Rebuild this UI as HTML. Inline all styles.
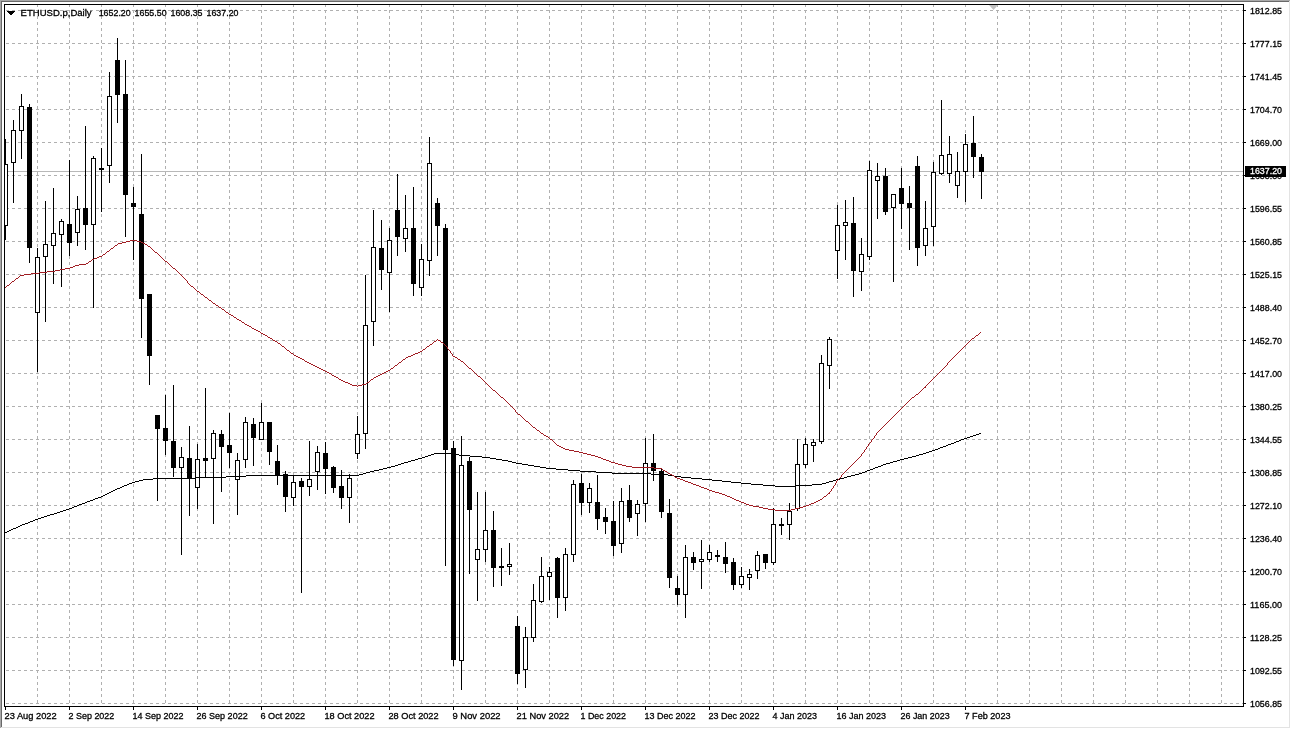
<!DOCTYPE html>
<html lang="en"><head><meta charset="utf-8"><title>ETHUSD.p Daily</title>
<style>html,body{margin:0;padding:0;background:#fff;overflow:hidden}svg{display:block}text{font-family:"Liberation Sans",sans-serif;font-size:9.6px;fill:#000;stroke:#000;stroke-width:0.3px}</style></head><body>
<svg width="1291" height="729" viewBox="0 0 1291 729">
<rect width="1291" height="729" fill="#fff"/>
<g shape-rendering="crispEdges">
<rect x="0" y="0" width="1290" height="1" fill="#a8a8a8"/><rect x="0" y="0" width="1" height="728" fill="#a8a8a8"/>
<rect x="1" y="1" width="1288" height="1" fill="#696969"/><rect x="1" y="1" width="1" height="726" fill="#696969"/>
<rect x="1289" y="1" width="1" height="727" fill="#e3e3e3"/><rect x="1" y="727" width="1289" height="1" fill="#e3e3e3"/>
</g>
<defs><clipPath id="cp"><rect x="5" y="5" width="1238" height="701"/></clipPath></defs>
<g clip-path="url(#cp)">
<g shape-rendering="crispEdges" stroke="#b0b0b0" stroke-width="1" stroke-dasharray="3 3" fill="none">
<path d="M0 10.5H1243M0 43.5H1243M0 76.5H1243M0 109.5H1243M0 142.5H1243M0 175.5H1243M0 208.5H1243M0 241.5H1243M0 274.5H1243M0 307.5H1243M0 340.5H1243M0 373.5H1243M0 406.5H1243M0 439.5H1243M0 472.5H1243M0 505.5H1243M0 538.5H1243M0 571.5H1243M0 604.5H1243M0 637.5H1243M0 670.5H1243M0 703.5H1243"/>
<path d="M37.5 4V706M69.5 4V706M101.5 4V706M133.5 4V706M165.5 4V706M197.5 4V706M229.5 4V706M261.5 4V706M293.5 4V706M325.5 4V706M357.5 4V706M389.5 4V706M421.5 4V706M453.5 4V706M485.5 4V706M517.5 4V706M549.5 4V706M581.5 4V706M613.5 4V706M645.5 4V706M677.5 4V706M709.5 4V706M741.5 4V706M773.5 4V706M805.5 4V706M837.5 4V706M869.5 4V706M901.5 4V706M933.5 4V706M965.5 4V706M997.5 4V706M1029.5 4V706M1061.5 4V706M1093.5 4V706M1125.5 4V706M1157.5 4V706M1189.5 4V706M1221.5 4V706"/>
</g>
<path d="M989 5H998L993.5 10Z" fill="#c0c0c0"/>
<rect x="5" y="171" width="1238" height="1" fill="#b8b8b8" shape-rendering="crispEdges"/>
<g shape-rendering="crispEdges">
<path d="M5 139h1V240h-1ZM13 120h1V203h-1ZM21 94h1V159h-1ZM29 104h1V263h-1ZM37 248h1V372h-1ZM45 201h1V322h-1ZM53 188h1V284h-1ZM61 219h1V287h-1ZM69 160h1V256h-1ZM77 196h1V246h-1ZM85 126h1V250h-1ZM93 156h1V308h-1ZM101 148h1V212h-1ZM109 72h1V183h-1ZM117 38h1V123h-1ZM125 60h1V237h-1ZM133 187h1V260h-1ZM141 154h1V338h-1ZM149 294h1V385h-1ZM157 415h1V501h-1ZM165 395h1V455h-1ZM173 385h1V477h-1ZM181 447h1V555h-1ZM189 426h1V516h-1ZM197 444h1V509h-1ZM205 388h1V478h-1ZM213 430h1V524h-1ZM221 430h1V492h-1ZM229 413h1V468h-1ZM237 453h1V515h-1ZM245 417h1V468h-1ZM253 418h1V466h-1ZM261 403h1V440h-1ZM269 422h1V465h-1ZM277 445h1V485h-1ZM285 471h1V512h-1ZM293 475h1V506h-1ZM301 478h1V593h-1ZM309 441h1V496h-1ZM317 446h1V490h-1ZM325 442h1V494h-1ZM333 466h1V493h-1ZM341 470h1V509h-1ZM349 474h1V523h-1ZM357 416h1V459h-1ZM365 275h1V449h-1ZM373 210h1V346h-1ZM381 220h1V290h-1ZM389 228h1V312h-1ZM397 174h1V256h-1ZM405 195h1V252h-1ZM413 187h1V296h-1ZM421 244h1V296h-1ZM429 137h1V276h-1ZM437 198h1V256h-1ZM445 224h1V566h-1ZM453 441h1V666h-1ZM461 436h1V690h-1ZM469 457h1V574h-1ZM477 492h1V601h-1ZM485 492h1V562h-1ZM493 511h1V587h-1ZM501 548h1V586h-1ZM509 543h1V575h-1ZM517 616h1V684h-1ZM525 627h1V688h-1ZM533 584h1V642h-1ZM541 557h1V603h-1ZM549 567h1V600h-1ZM557 557h1V618h-1ZM565 548h1V611h-1ZM573 480h1V562h-1ZM581 474h1V515h-1ZM589 483h1V513h-1ZM597 475h1V530h-1ZM605 508h1V534h-1ZM613 501h1V556h-1ZM621 488h1V553h-1ZM629 485h1V522h-1ZM637 500h1V536h-1ZM645 438h1V522h-1ZM653 434h1V481h-1ZM661 468h1V518h-1ZM669 499h1V588h-1ZM677 576h1V605h-1ZM685 545h1V618h-1ZM693 552h1V570h-1ZM701 540h1V589h-1ZM709 545h1V562h-1ZM717 550h1V562h-1ZM725 542h1V573h-1ZM733 558h1V590h-1ZM741 567h1V588h-1ZM749 569h1V590h-1ZM757 551h1V579h-1ZM765 554h1V569h-1ZM773 508h1V565h-1ZM781 518h1V535h-1ZM789 503h1V540h-1ZM797 439h1V511h-1ZM805 438h1V468h-1ZM813 439h1V462h-1ZM821 355h1V444h-1ZM829 337h1V389h-1ZM837 205h1V279h-1ZM845 200h1V260h-1ZM853 197h1V297h-1ZM861 238h1V291h-1ZM869 161h1V260h-1ZM877 163h1V219h-1ZM885 168h1V215h-1ZM893 194h1V282h-1ZM901 168h1V229h-1ZM909 186h1V250h-1ZM917 156h1V266h-1ZM925 201h1V256h-1ZM933 162h1V246h-1ZM941 100h1V175h-1ZM949 136h1V183h-1ZM957 152h1V198h-1ZM965 134h1V202h-1ZM973 116h1V178h-1ZM981 154h1V199h-1Z" fill="#000"/>
<path d="M3.5 164.5h4V225.5h-4ZM11.5 130.5h4V162.5h-4ZM19.5 106.5h4V130.5h-4ZM35.5 257.5h4V312.5h-4ZM43.5 244.5h4V256.5h-4ZM51.5 233.5h4V245.5h-4ZM59.5 221.5h4V234.5h-4ZM75.5 209.5h4V232.5h-4ZM91.5 158.5h4V224.5h-4ZM107.5 96.5h4V165.5h-4ZM179.5 457.5h4V467.5h-4ZM195.5 459.5h4V487.5h-4ZM211.5 433.5h4V458.5h-4ZM235.5 460.5h4V479.5h-4ZM243.5 422.5h4V459.5h-4ZM259.5 422.5h4V439.5h-4ZM291.5 482.5h4V497.5h-4ZM307.5 479.5h4V486.5h-4ZM315.5 452.5h4V471.5h-4ZM347.5 478.5h4V497.5h-4ZM355.5 434.5h4V453.5h-4ZM363.5 325.5h4V433.5h-4ZM371.5 247.5h4V321.5h-4ZM387.5 240.5h4V272.5h-4ZM403.5 228.5h4V238.5h-4ZM419.5 259.5h4V287.5h-4ZM427.5 163.5h4V260.5h-4ZM459.5 465.5h4V660.5h-4ZM475.5 549.5h4V559.5h-4ZM483.5 530.5h4V549.5h-4ZM507.5 564.5h4V566.5h-4ZM523.5 637.5h4V669.5h-4ZM531.5 600.5h4V637.5h-4ZM539.5 576.5h4V601.5h-4ZM547.5 572.5h4V576.5h-4ZM563.5 554.5h4V597.5h-4ZM571.5 484.5h4V554.5h-4ZM587.5 488.5h4V502.5h-4ZM619.5 501.5h4V543.5h-4ZM635.5 504.5h4V513.5h-4ZM643.5 463.5h4V503.5h-4ZM683.5 557.5h4V594.5h-4ZM699.5 559.5h4V561.5h-4ZM707.5 552.5h4V559.5h-4ZM739.5 576.5h4V584.5h-4ZM747.5 574.5h4V577.5h-4ZM755.5 555.5h4V570.5h-4ZM771.5 524.5h4V562.5h-4ZM787.5 511.5h4V524.5h-4ZM795.5 464.5h4V508.5h-4ZM803.5 444.5h4V464.5h-4ZM811.5 442.5h4V445.5h-4ZM819.5 363.5h4V441.5h-4ZM827.5 339.5h4V365.5h-4ZM835.5 225.5h4V250.5h-4ZM843.5 222.5h4V225.5h-4ZM859.5 254.5h4V271.5h-4ZM867.5 170.5h4V256.5h-4ZM875.5 176.5h4V180.5h-4ZM891.5 194.5h4V207.5h-4ZM923.5 228.5h4V245.5h-4ZM931.5 172.5h4V226.5h-4ZM939.5 155.5h4V173.5h-4ZM947.5 154.5h4V173.5h-4ZM955.5 171.5h4V185.5h-4ZM963.5 144.5h4V171.5h-4Z" fill="#fff" stroke="#000" stroke-width="1"/>
<path d="M27 107h5V248h-5ZM67 224h5V243h-5ZM83 208h5V225h-5ZM99 168h5V170h-5ZM115 60h5V95h-5ZM123 94h5V195h-5ZM131 203h5V207h-5ZM139 214h5V299h-5ZM147 294h5V356h-5ZM155 415h5V429h-5ZM163 428h5V441h-5ZM171 441h5V468h-5ZM187 458h5V479h-5ZM203 458h5V461h-5ZM219 434h5V447h-5ZM227 445h5V453h-5ZM251 424h5V438h-5ZM267 422h5V452h-5ZM275 461h5V476h-5ZM283 474h5V497h-5ZM299 481h5V487h-5ZM323 453h5V469h-5ZM331 467h5V488h-5ZM339 486h5V498h-5ZM379 248h5V270h-5ZM395 210h5V237h-5ZM411 228h5V284h-5ZM435 203h5V226h-5ZM443 228h5V450h-5ZM451 448h5V660h-5ZM467 461h5V510h-5ZM491 530h5V568h-5ZM499 566h5V568h-5ZM515 626h5V674h-5ZM555 558h5V598h-5ZM579 483h5V503h-5ZM595 502h5V519h-5ZM603 517h5V522h-5ZM611 521h5V546h-5ZM627 500h5V518h-5ZM651 463h5V471h-5ZM659 471h5V512h-5ZM667 513h5V578h-5ZM675 588h5V595h-5ZM691 557h5V563h-5ZM715 555h5V557h-5ZM723 557h5V564h-5ZM731 562h5V585h-5ZM763 554h5V563h-5ZM779 524h5V526h-5ZM851 223h5V271h-5ZM883 176h5V212h-5ZM899 188h5V204h-5ZM907 203h5V208h-5ZM915 166h5V248h-5ZM971 143h5V157h-5ZM979 157h5V172h-5Z" fill="#000"/>
</g>
<path d="M5 532h2v1h-2zM7 531h2v1h-2zM9 530h2v1h-2zM11 529h2v1h-2zM13 528h3v1h-3zM16 527h2v1h-2zM18 526h2v1h-2zM20 525h2v1h-2zM22 524h3v1h-3zM25 523h3v1h-3zM28 522h2v1h-2zM30 521h3v1h-3zM33 520h2v1h-2zM35 519h3v1h-3zM38 518h3v1h-3zM41 517h3v1h-3zM44 516h3v1h-3zM47 515h3v1h-3zM50 514h4v1h-4zM54 513h3v1h-3zM57 512h3v1h-3zM60 511h3v1h-3zM63 510h3v1h-3zM66 509h3v1h-3zM69 508h3v1h-3zM72 507h2v1h-2zM74 506h3v1h-3zM77 505h2v1h-2zM79 504h3v1h-3zM82 503h3v1h-3zM85 502h2v1h-2zM87 501h3v1h-3zM90 500h3v1h-3zM93 499h2v1h-2zM95 498h3v1h-3zM98 497h3v1h-3zM101 496h2v1h-2zM103 495h2v1h-2zM105 494h2v1h-2zM107 493h2v1h-2zM109 492h2v1h-2zM111 491h2v1h-2zM113 490h2v1h-2zM115 489h2v1h-2zM117 488h3v1h-3zM120 487h2v1h-2zM122 486h2v1h-2zM124 485h3v1h-3zM127 484h2v1h-2zM129 483h3v1h-3zM132 482h3v1h-3zM135 481h4v1h-4zM139 480h4v1h-4zM143 479h10v1h-10zM153 478h43v1h-43zM196 477h30v1h-30zM226 476h20v1h-20zM246 475h113v1h-113zM359 474h4v1h-4zM363 473h3v1h-3zM366 472h4v1h-4zM370 471h4v1h-4zM374 470h5v1h-5zM379 469h4v1h-4zM383 468h4v1h-4zM387 467h4v1h-4zM391 466h4v1h-4zM395 465h3v1h-3zM398 464h3v1h-3zM401 463h3v1h-3zM404 462h4v1h-4zM408 461h3v1h-3zM411 460h4v1h-4zM415 459h3v1h-3zM418 458h4v1h-4zM422 457h3v1h-3zM425 456h3v1h-3zM428 455h3v1h-3zM431 454h3v1h-3zM434 453h18v1h-18zM452 454h7v1h-7zM459 455h11v1h-11zM470 456h12v1h-12zM482 457h8v1h-8zM490 458h6v1h-6zM496 459h6v1h-6zM502 460h6v1h-6zM508 461h4v1h-4zM512 462h4v1h-4zM516 463h6v1h-6zM522 464h6v1h-6zM528 465h6v1h-6zM534 466h6v1h-6zM540 467h6v1h-6zM546 468h10v1h-10zM556 469h12v1h-12zM568 470h12v1h-12zM580 471h16v1h-16zM596 472h16v1h-16zM612 473h39v1h-39zM651 474h17v1h-17zM668 475h6v1h-6zM674 476h7v1h-7zM681 477h10v1h-10zM691 478h11v1h-11zM702 479h10v1h-10zM712 480h10v1h-10zM722 481h9v1h-9zM731 482h10v1h-10zM741 483h10v1h-10zM751 484h12v1h-12zM763 485h12v1h-12zM775 486h20v1h-20zM795 485h17v1h-17zM812 484h10v1h-10zM822 483h4v1h-4zM826 482h3v1h-3zM829 481h4v1h-4zM833 480h3v1h-3zM836 479h4v1h-4zM840 478h4v1h-4zM844 477h3v1h-3zM847 476h4v1h-4zM851 475h4v1h-4zM855 474h4v1h-4zM859 473h3v1h-3zM862 472h3v1h-3zM865 471h2v1h-2zM867 470h3v1h-3zM870 469h3v1h-3zM873 468h2v1h-2zM875 467h3v1h-3zM878 466h3v1h-3zM881 465h2v1h-2zM883 464h3v1h-3zM886 463h4v1h-4zM890 462h3v1h-3zM893 461h4v1h-4zM897 460h3v1h-3zM900 459h4v1h-4zM904 458h4v1h-4zM908 457h4v1h-4zM912 456h4v1h-4zM916 455h3v1h-3zM919 454h4v1h-4zM923 453h3v1h-3zM926 452h3v1h-3zM929 451h3v1h-3zM932 450h3v1h-3zM935 449h3v1h-3zM938 448h2v1h-2zM940 447h3v1h-3zM943 446h3v1h-3zM946 445h2v1h-2zM948 444h3v1h-3zM951 443h3v1h-3zM954 442h2v1h-2zM956 441h3v1h-3zM959 440h2v1h-2zM961 439h3v1h-3zM964 438h3v1h-3zM967 437h3v1h-3zM970 436h3v1h-3zM973 435h3v1h-3zM976 434h3v1h-3zM979 433h2v1h-2z" fill="#000" shape-rendering="crispEdges"/>
<path d="M5 287h1v1h-1zM6 286h1v1h-1zM7 285h2v1h-2zM9 284h1v1h-1zM10 283h1v1h-1zM11 282h1v1h-1zM12 281h2v1h-2zM14 280h1v1h-1zM15 279h1v1h-1zM16 278h2v1h-2zM18 277h1v1h-1zM19 276h1v1h-1zM20 275h4v1h-4zM24 274h7v1h-7zM31 273h8v1h-8zM39 272h8v1h-8zM47 271h8v1h-8zM55 270h5v1h-5zM60 269h5v1h-5zM65 268h5v1h-5zM70 267h3v1h-3zM73 266h2v1h-2zM75 265h4v1h-4zM79 264h7v1h-7zM86 263h2v1h-2zM88 262h1v1h-1zM89 261h2v1h-2zM91 260h1v1h-1zM92 259h2v1h-2zM94 258h3v1h-3zM97 257h2v1h-2zM99 256h3v1h-3zM102 255h1v1h-1zM103 254h2v1h-2zM105 253h1v1h-1zM106 252h1v1h-1zM107 251h2v1h-2zM109 250h1v1h-1zM110 249h1v1h-1zM111 248h2v1h-2zM113 247h1v1h-1zM114 246h1v1h-1zM115 245h2v1h-2zM117 244h1v1h-1zM118 243h4v1h-4zM122 242h4v1h-4zM126 241h4v1h-4zM130 240h7v1h-7zM137 241h4v1h-4zM141 242h2v1h-2zM143 243h2v1h-2zM145 244h2v1h-2zM147 245h1v1h-1zM148 246h2v1h-2zM150 247h1v1h-1zM151 248h1v1h-1zM152 249h1v1h-1zM153 250h1v1h-1zM154 251h1v1h-1zM155 252h2v1h-2zM157 253h1v1h-1zM158 254h1v1h-1zM159 255h1v1h-1zM160 256h1v1h-1zM161 257h1v1h-1zM162 258h1v1h-1zM163 259h1v1h-1zM164 260h1v1h-1zM165 261h2v1h-2zM167 262h1v1h-1zM168 263h1v1h-1zM169 264h1v1h-1zM170 265h1v1h-1zM171 266h1v1h-1zM172 267h1v1h-1zM173 268h2v1h-2zM175 269h1v1h-1zM176 270h1v1h-1zM177 271h1v1h-1zM178 272h1v1h-1zM179 273h1v1h-1zM180 274h1v1h-1zM181 275h1v1h-1zM182 276h1v1h-1zM183 277h1v1h-1zM184 278h1v1h-1zM185 279h1v1h-1zM186 280h1v1h-1zM187 281h1v2h-1zM188 283h1v1h-1zM189 284h1v1h-1zM190 285h1v1h-1zM191 286h2v1h-2zM193 287h1v1h-1zM194 288h1v1h-1zM195 289h1v1h-1zM196 290h1v1h-1zM197 291h2v1h-2zM199 292h1v1h-1zM200 293h1v1h-1zM201 294h2v1h-2zM203 295h1v1h-1zM204 296h1v1h-1zM205 297h2v1h-2zM207 298h1v1h-1zM208 299h1v1h-1zM209 300h2v1h-2zM211 301h1v1h-1zM212 302h1v1h-1zM213 303h2v1h-2zM215 304h1v1h-1zM216 305h2v1h-2zM218 306h1v1h-1zM219 307h2v1h-2zM221 308h1v1h-1zM222 309h2v1h-2zM224 310h1v1h-1zM225 311h1v1h-1zM226 312h2v1h-2zM228 313h1v1h-1zM229 314h2v1h-2zM231 315h2v1h-2zM233 316h1v1h-1zM234 317h2v1h-2zM236 318h1v1h-1zM237 319h2v1h-2zM239 320h2v1h-2zM241 321h1v1h-1zM242 322h2v1h-2zM244 323h1v1h-1zM245 324h2v1h-2zM247 325h2v1h-2zM249 326h2v1h-2zM251 327h1v1h-1zM252 328h2v1h-2zM254 329h2v1h-2zM256 330h2v1h-2zM258 331h2v1h-2zM260 332h1v1h-1zM261 333h2v1h-2zM263 334h2v1h-2zM265 335h2v1h-2zM267 336h1v1h-1zM268 337h2v1h-2zM270 338h2v1h-2zM272 339h1v1h-1zM273 340h2v1h-2zM275 341h2v1h-2zM277 342h1v1h-1zM278 343h2v1h-2zM280 344h1v1h-1zM281 345h1v1h-1zM282 346h2v1h-2zM284 347h1v1h-1zM285 348h1v1h-1zM286 349h1v1h-1zM287 350h2v1h-2zM289 351h1v1h-1zM290 352h1v1h-1zM291 353h2v1h-2zM293 354h1v1h-1zM294 355h2v1h-2zM296 356h2v1h-2zM298 357h2v1h-2zM300 358h2v1h-2zM302 359h2v1h-2zM304 360h1v1h-1zM305 361h2v1h-2zM307 362h2v1h-2zM309 363h2v1h-2zM311 364h2v1h-2zM313 365h2v1h-2zM315 366h2v1h-2zM317 367h2v1h-2zM319 368h2v1h-2zM321 369h2v1h-2zM323 370h2v1h-2zM325 371h2v1h-2zM327 372h2v1h-2zM329 373h2v1h-2zM331 374h1v1h-1zM332 375h2v1h-2zM334 376h2v1h-2zM336 377h2v1h-2zM338 378h1v1h-1zM339 379h2v1h-2zM341 380h2v1h-2zM343 381h2v1h-2zM345 382h3v1h-3zM348 383h2v1h-2zM350 384h2v1h-2zM352 385h5v1h-5zM357 386h1v1h-1zM358 385h4v1h-4zM362 384h4v1h-4zM366 383h1v1h-1zM367 382h2v1h-2zM369 381h1v1h-1zM370 380h1v1h-1zM371 379h2v1h-2zM373 378h1v1h-1zM374 377h2v1h-2zM376 376h2v1h-2zM378 375h2v1h-2zM380 374h2v1h-2zM382 373h2v1h-2zM384 372h2v1h-2zM386 371h2v1h-2zM388 370h2v1h-2zM390 369h1v1h-1zM391 368h2v1h-2zM393 367h1v1h-1zM394 366h1v1h-1zM395 365h2v1h-2zM397 364h1v1h-1zM398 363h1v1h-1zM399 362h2v1h-2zM401 361h1v1h-1zM402 360h1v1h-1zM403 359h2v1h-2zM405 358h1v1h-1zM406 357h2v1h-2zM408 356h3v1h-3zM411 355h2v1h-2zM413 354h2v1h-2zM415 353h3v1h-3zM418 352h2v1h-2zM420 351h2v1h-2zM422 350h1v1h-1zM423 349h2v1h-2zM425 348h1v1h-1zM426 347h1v1h-1zM427 346h2v1h-2zM429 345h1v1h-1zM430 344h2v1h-2zM432 343h1v1h-1zM433 342h1v1h-1zM434 341h2v1h-2zM436 340h1v1h-1zM437 339h1v1h-1zM438 340h2v1h-2zM440 341h1v1h-1zM441 342h2v1h-2zM443 343h1v1h-1zM444 344h1v1h-1zM445 345h1v1h-1zM446 346h1v1h-1zM447 347h1v2h-1zM448 349h1v1h-1zM449 350h1v1h-1zM450 351h1v2h-1zM451 353h1v1h-1zM452 354h1v2h-1zM453 356h2v1h-2zM455 357h2v1h-2zM457 358h1v1h-1zM458 359h2v1h-2zM460 360h1v1h-1zM461 361h2v1h-2zM463 362h1v1h-1zM464 363h1v1h-1zM465 364h1v1h-1zM466 365h1v1h-1zM467 366h1v1h-1zM468 367h1v1h-1zM469 368h2v1h-2zM471 369h1v1h-1zM472 370h1v1h-1zM473 371h1v1h-1zM474 372h1v1h-1zM475 373h1v1h-1zM476 374h1v1h-1zM477 375h1v1h-1zM478 376h2v1h-2zM480 377h1v1h-1zM481 378h1v1h-1zM482 379h1v1h-1zM483 380h1v1h-1zM484 381h1v1h-1zM485 382h1v1h-1zM486 383h1v1h-1zM487 384h1v1h-1zM488 385h1v1h-1zM489 386h1v1h-1zM490 387h1v1h-1zM491 388h1v1h-1zM492 389h1v1h-1zM493 390h2v1h-2zM495 391h1v1h-1zM496 392h1v1h-1zM497 393h1v1h-1zM498 394h1v1h-1zM499 395h1v1h-1zM500 396h1v1h-1zM501 397h2v1h-2zM503 398h1v1h-1zM504 399h1v1h-1zM505 400h1v1h-1zM506 401h1v1h-1zM507 402h1v1h-1zM508 403h1v1h-1zM509 404h1v1h-1zM510 405h1v1h-1zM511 406h1v1h-1zM512 407h1v1h-1zM513 408h1v1h-1zM514 409h1v1h-1zM515 410h1v2h-1zM516 412h1v1h-1zM517 413h1v1h-1zM518 414h2v1h-2zM520 415h1v1h-1zM521 416h1v1h-1zM522 417h1v1h-1zM523 418h1v1h-1zM524 419h1v1h-1zM525 420h1v1h-1zM526 421h2v1h-2zM528 422h1v1h-1zM529 423h1v1h-1zM530 424h1v1h-1zM531 425h1v1h-1zM532 426h1v1h-1zM533 427h2v1h-2zM535 428h1v1h-1zM536 429h1v1h-1zM537 430h2v1h-2zM539 431h1v1h-1zM540 432h1v1h-1zM541 433h2v1h-2zM543 434h1v1h-1zM544 435h2v1h-2zM546 436h2v1h-2zM548 437h1v1h-1zM549 438h1v1h-1zM550 439h2v1h-2zM552 440h1v1h-1zM553 441h1v1h-1zM554 442h1v1h-1zM555 443h1v1h-1zM556 444h1v1h-1zM557 445h2v1h-2zM559 446h2v1h-2zM561 447h2v1h-2zM563 448h2v1h-2zM565 449h4v1h-4zM569 450h5v1h-5zM574 451h5v1h-5zM579 452h4v1h-4zM583 453h4v1h-4zM587 454h4v1h-4zM591 455h4v1h-4zM595 456h3v1h-3zM598 457h3v1h-3zM601 458h2v1h-2zM603 459h3v1h-3zM606 460h3v1h-3zM609 461h2v1h-2zM611 462h4v1h-4zM615 463h3v1h-3zM618 464h4v1h-4zM622 465h4v1h-4zM626 466h6v1h-6zM632 467h22v1h-22zM654 468h8v1h-8zM662 469h1v1h-1zM663 470h2v1h-2zM665 471h2v1h-2zM667 472h1v1h-1zM668 473h2v1h-2zM670 474h2v1h-2zM672 475h2v1h-2zM674 476h1v1h-1zM675 477h2v1h-2zM677 478h3v1h-3zM680 479h3v1h-3zM683 480h2v1h-2zM685 481h3v1h-3zM688 482h3v1h-3zM691 483h2v1h-2zM693 484h3v1h-3zM696 485h3v1h-3zM699 486h2v1h-2zM701 487h3v1h-3zM704 488h3v1h-3zM707 489h2v1h-2zM709 490h3v1h-3zM712 491h3v1h-3zM715 492h4v1h-4zM719 493h3v1h-3zM722 494h3v1h-3zM725 495h2v1h-2zM727 496h3v1h-3zM730 497h2v1h-2zM732 498h2v1h-2zM734 499h2v1h-2zM736 500h3v1h-3zM739 501h2v1h-2zM741 502h3v1h-3zM744 503h2v1h-2zM746 504h3v1h-3zM749 505h4v1h-4zM753 506h6v1h-6zM759 507h4v1h-4zM763 508h5v1h-5zM768 509h7v1h-7zM775 510h16v1h-16zM791 509h4v1h-4zM795 508h4v1h-4zM799 507h4v1h-4zM803 506h3v1h-3zM806 505h3v1h-3zM809 504h2v1h-2zM811 503h3v1h-3zM814 502h2v1h-2zM816 501h2v1h-2zM818 500h2v1h-2zM820 499h2v1h-2zM822 498h1v1h-1zM823 497h1v1h-1zM824 496h2v1h-2zM826 495h1v1h-1zM827 494h1v1h-1zM828 493h1v1h-1zM829 492h1v2h-1zM830 491h1v1h-1zM831 489h1v2h-1zM832 488h1v1h-1zM833 486h1v2h-1zM834 485h1v1h-1zM835 483h1v2h-1zM836 481h1v2h-1zM837 480h1v1h-1zM838 479h1v1h-1zM839 478h1v1h-1zM840 477h1v1h-1zM841 475h1v2h-1zM842 474h1v1h-1zM843 473h1v1h-1zM844 472h1v1h-1zM845 471h1v1h-1zM846 470h1v1h-1zM847 469h1v1h-1zM848 468h1v1h-1zM849 467h1v1h-1zM850 466h1v1h-1zM851 465h1v1h-1zM852 464h1v1h-1zM853 463h1v1h-1zM854 462h1v1h-1zM855 461h1v1h-1zM856 460h1v1h-1zM857 459h1v1h-1zM858 458h1v1h-1zM859 457h1v1h-1zM860 456h1v1h-1zM861 454h1v2h-1zM862 453h1v1h-1zM863 452h1v1h-1zM864 450h1v2h-1zM865 449h1v1h-1zM866 447h1v2h-1zM867 446h1v1h-1zM868 444h1v2h-1zM869 443h1v1h-1zM870 442h1v1h-1zM871 440h1v2h-1zM872 439h1v1h-1zM873 438h1v1h-1zM874 436h1v2h-1zM875 435h1v1h-1zM876 433h1v2h-1zM877 432h1v1h-1zM878 431h1v1h-1zM879 430h1v1h-1zM880 429h1v1h-1zM881 428h1v1h-1zM882 427h1v1h-1zM883 426h1v1h-1zM884 425h1v1h-1zM885 424h1v1h-1zM886 423h1v1h-1zM887 422h1v1h-1zM888 421h1v1h-1zM889 420h1v1h-1zM890 419h1v1h-1zM891 418h1v1h-1zM892 417h1v1h-1zM893 416h1v1h-1zM894 415h1v1h-1zM895 414h1v1h-1zM896 413h1v1h-1zM897 412h1v1h-1zM898 411h1v1h-1zM899 410h1v1h-1zM900 409h1v1h-1zM901 408h1v1h-1zM902 407h1v1h-1zM903 406h1v1h-1zM904 405h1v1h-1zM905 404h1v1h-1zM906 403h1v1h-1zM907 402h1v1h-1zM908 401h1v1h-1zM909 400h1v1h-1zM910 399h1v1h-1zM911 398h1v1h-1zM912 397h2v1h-2zM914 396h1v1h-1zM915 395h1v1h-1zM916 394h2v1h-2zM918 393h1v1h-1zM919 392h1v1h-1zM920 391h1v1h-1zM921 390h1v1h-1zM922 389h1v1h-1zM923 388h1v1h-1zM924 387h1v1h-1zM925 386h1v2h-1zM926 385h1v1h-1zM927 384h1v1h-1zM928 383h1v1h-1zM929 382h1v1h-1zM930 381h1v1h-1zM931 380h1v1h-1zM932 379h1v1h-1zM933 378h1v1h-1zM934 377h1v1h-1zM935 376h1v1h-1zM936 375h1v1h-1zM937 374h1v1h-1zM938 373h1v1h-1zM939 372h1v1h-1zM940 371h1v1h-1zM941 370h1v1h-1zM942 369h1v1h-1zM943 368h1v1h-1zM944 367h1v1h-1zM945 366h1v1h-1zM946 365h1v1h-1zM947 363h1v2h-1zM948 362h1v1h-1zM949 361h1v1h-1zM950 360h1v1h-1zM951 359h1v1h-1zM952 358h1v1h-1zM953 357h1v1h-1zM954 356h1v1h-1zM955 355h1v1h-1zM956 354h1v1h-1zM957 353h1v1h-1zM958 352h1v1h-1zM959 351h1v1h-1zM960 350h1v1h-1zM961 349h1v1h-1zM962 348h1v1h-1zM963 347h1v1h-1zM964 346h1v1h-1zM965 345h1v1h-1zM966 344h1v1h-1zM967 343h1v1h-1zM968 342h1v1h-1zM969 341h1v1h-1zM970 340h1v1h-1zM971 339h1v1h-1zM972 338h2v1h-2zM974 337h1v1h-1zM975 336h1v1h-1zM976 335h2v1h-2zM978 334h1v1h-1zM979 333h1v1h-1zM980 332h1v1h-1z" fill="#a01c22" shape-rendering="crispEdges"/>
</g>
<g shape-rendering="crispEdges" fill="#000">
<rect x="4" y="4" width="1240" height="1"/><rect x="4" y="706" width="1240" height="1"/>
<rect x="4" y="4" width="1" height="703"/><rect x="1243" y="4" width="1" height="703"/>
<path d="M1244 10h2v1h-2ZM1244 43h2v1h-2ZM1244 76h2v1h-2ZM1244 109h2v1h-2ZM1244 142h2v1h-2ZM1244 175h2v1h-2ZM1244 208h2v1h-2ZM1244 241h2v1h-2ZM1244 274h2v1h-2ZM1244 307h2v1h-2ZM1244 340h2v1h-2ZM1244 373h2v1h-2ZM1244 406h2v1h-2ZM1244 439h2v1h-2ZM1244 472h2v1h-2ZM1244 505h2v1h-2ZM1244 538h2v1h-2ZM1244 571h2v1h-2ZM1244 604h2v1h-2ZM1244 637h2v1h-2ZM1244 670h2v1h-2ZM1244 703h2v1h-2ZM5 707h1v3h-1ZM69 707h1v3h-1ZM133 707h1v3h-1ZM197 707h1v3h-1ZM261 707h1v3h-1ZM325 707h1v3h-1ZM389 707h1v3h-1ZM453 707h1v3h-1ZM517 707h1v3h-1ZM581 707h1v3h-1ZM645 707h1v3h-1ZM709 707h1v3h-1ZM773 707h1v3h-1ZM837 707h1v3h-1ZM901 707h1v3h-1ZM965 707h1v3h-1Z"/>
</g>
<text x="1250" y="13.7" textLength="32" lengthAdjust="spacingAndGlyphs">1812.85</text>
<text x="1250" y="46.7" textLength="32" lengthAdjust="spacingAndGlyphs">1777.15</text>
<text x="1250" y="79.7" textLength="32" lengthAdjust="spacingAndGlyphs">1741.45</text>
<text x="1250" y="112.7" textLength="32" lengthAdjust="spacingAndGlyphs">1704.70</text>
<text x="1250" y="145.7" textLength="32" lengthAdjust="spacingAndGlyphs">1669.00</text>
<text x="1250" y="178.7" textLength="32" lengthAdjust="spacingAndGlyphs">1633.30</text>
<text x="1250" y="211.7" textLength="32" lengthAdjust="spacingAndGlyphs">1596.55</text>
<text x="1250" y="244.7" textLength="32" lengthAdjust="spacingAndGlyphs">1560.85</text>
<text x="1250" y="277.7" textLength="32" lengthAdjust="spacingAndGlyphs">1525.15</text>
<text x="1250" y="310.7" textLength="32" lengthAdjust="spacingAndGlyphs">1488.40</text>
<text x="1250" y="343.7" textLength="32" lengthAdjust="spacingAndGlyphs">1452.70</text>
<text x="1250" y="376.7" textLength="32" lengthAdjust="spacingAndGlyphs">1417.00</text>
<text x="1250" y="409.7" textLength="32" lengthAdjust="spacingAndGlyphs">1380.25</text>
<text x="1250" y="442.7" textLength="32" lengthAdjust="spacingAndGlyphs">1344.55</text>
<text x="1250" y="475.7" textLength="32" lengthAdjust="spacingAndGlyphs">1308.85</text>
<text x="1250" y="508.7" textLength="32" lengthAdjust="spacingAndGlyphs">1272.10</text>
<text x="1250" y="541.7" textLength="32" lengthAdjust="spacingAndGlyphs">1236.40</text>
<text x="1250" y="574.7" textLength="32" lengthAdjust="spacingAndGlyphs">1200.70</text>
<text x="1250" y="607.7" textLength="32" lengthAdjust="spacingAndGlyphs">1165.00</text>
<text x="1250" y="640.7" textLength="32" lengthAdjust="spacingAndGlyphs">1128.25</text>
<text x="1250" y="673.7" textLength="32" lengthAdjust="spacingAndGlyphs">1092.55</text>
<text x="1250" y="706.7" textLength="32" lengthAdjust="spacingAndGlyphs">1056.85</text>
<rect x="1245" y="166" width="41" height="11" fill="#000" shape-rendering="crispEdges"/>
<text x="1250" y="174.4" textLength="32" lengthAdjust="spacingAndGlyphs" style="fill:#fff;stroke:#fff">1637.20</text>
<text x="4.5" y="718.9" textLength="52.2" lengthAdjust="spacingAndGlyphs">23 Aug 2022</text>
<text x="68.5" y="718.9" textLength="45.8" lengthAdjust="spacingAndGlyphs">2 Sep 2022</text>
<text x="132.5" y="718.9" textLength="50.9" lengthAdjust="spacingAndGlyphs">14 Sep 2022</text>
<text x="196.5" y="718.9" textLength="51.2" lengthAdjust="spacingAndGlyphs">26 Sep 2022</text>
<text x="260.5" y="718.9" textLength="44.7" lengthAdjust="spacingAndGlyphs">6 Oct 2022</text>
<text x="324.5" y="718.9" textLength="50" lengthAdjust="spacingAndGlyphs">18 Oct 2022</text>
<text x="388.5" y="718.9" textLength="50.1" lengthAdjust="spacingAndGlyphs">28 Oct 2022</text>
<text x="452.5" y="718.9" textLength="48.1" lengthAdjust="spacingAndGlyphs">9 Nov 2022</text>
<text x="516.5" y="718.9" textLength="52.7" lengthAdjust="spacingAndGlyphs">21 Nov 2022</text>
<text x="580.5" y="718.9" textLength="45.5" lengthAdjust="spacingAndGlyphs">1 Dec 2022</text>
<text x="644.5" y="718.9" textLength="51" lengthAdjust="spacingAndGlyphs">13 Dec 2022</text>
<text x="708.5" y="718.9" textLength="50.9" lengthAdjust="spacingAndGlyphs">23 Dec 2022</text>
<text x="772.5" y="718.9" textLength="44.5" lengthAdjust="spacingAndGlyphs">4 Jan 2023</text>
<text x="836.5" y="718.9" textLength="49.6" lengthAdjust="spacingAndGlyphs">16 Jan 2023</text>
<text x="900.5" y="718.9" textLength="49.1" lengthAdjust="spacingAndGlyphs">26 Jan 2023</text>
<text x="964.5" y="718.9" textLength="46" lengthAdjust="spacingAndGlyphs">7 Feb 2023</text>
<path d="M7 11h8v1h-8zM8 12h6v1h-6zM9 13h4v1h-4zM10 14h2v1h-2z" fill="#000" shape-rendering="crispEdges"/>
<text x="20.6" y="15.6" textLength="71" lengthAdjust="spacingAndGlyphs">ETHUSD.p,Daily</text>
<text x="98.7" y="15.6" textLength="32" lengthAdjust="spacingAndGlyphs">1652.20</text>
<text x="134.6" y="15.6" textLength="32" lengthAdjust="spacingAndGlyphs">1655.50</text>
<text x="170.5" y="15.6" textLength="32" lengthAdjust="spacingAndGlyphs">1608.35</text>
<text x="206.5" y="15.6" textLength="32" lengthAdjust="spacingAndGlyphs">1637.20</text>
</svg></body></html>
